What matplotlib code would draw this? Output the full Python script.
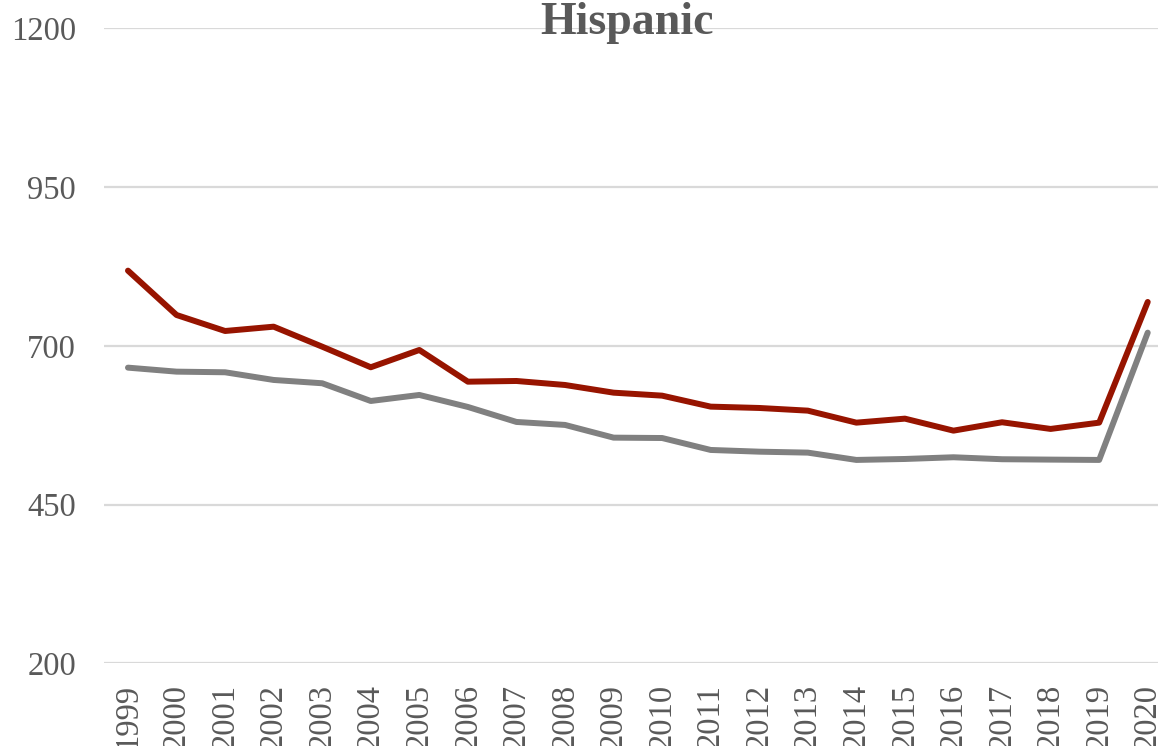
import numpy as np
import matplotlib.pyplot as plt

# --- data ---
years = [str(y) for y in range(1999, 2021)]
red_series = [818.5, 748.7, 723.5, 730.3, 698.8, 666.4, 693.6, 643.7, 644.8, 638.5,
              626.4, 621.7, 604.4, 602.3, 598.1, 579.2, 585.5, 566.6, 579.8, 569.3,
              579.2, 769.2]
gray_series = [665.8, 659.5, 658.5, 646.4, 641.2, 613.3, 622.8, 603.9, 580.3, 575.6,
               555.6, 555.0, 536.2, 533.5, 532.0, 520.5, 522.0, 524.7, 521.6, 521.0,
               520.5, 720.9]
y_ticks = [200, 450, 700, 950, 1200]

plt.rcParams['font.family'] = ['Liberation Serif', 'DejaVu Serif']
text_color = '#595959'

fig = plt.figure(figsize=(11.58, 7.46), dpi=100)
# axes intentionally runs past the right edge, like the original
ax = fig.add_axes([103.7 / 1158, 0.1106, (1172 - 103.7) / 1158, 0.8514])

x = np.arange(len(years))
ax.plot(x, gray_series, color='#808080', lw=4.3, solid_capstyle='round', solid_joinstyle='round', zorder=3)
ax.plot(x, red_series, color='#971400', lw=4.3, solid_capstyle='round', solid_joinstyle='round', zorder=4)

ax.set_xlim(-0.5, len(years) - 0.5)
ax.set_ylim(200, 1200)
ax.set_yticks(y_ticks)
ax.set_xticks(x)
ax.set_xticklabels(years, rotation=90)
ax.grid(axis='y', color='#d9d9d9', lw=1.6)
ax.set_axisbelow(True)
for s in ax.spines.values():
    s.set_visible(False)
ax.tick_params(axis='both', length=0, colors=text_color, labelsize=23.5)
ax.tick_params(axis='y', pad=20)
ax.tick_params(axis='x', pad=14.5)

fig.text(627 / 1158, 1 - 34 / 746, 'Hispanic', ha='center', va='baseline',
         fontsize=33, fontweight='bold', color=text_color)

fig.savefig('out.png', dpi=100)
